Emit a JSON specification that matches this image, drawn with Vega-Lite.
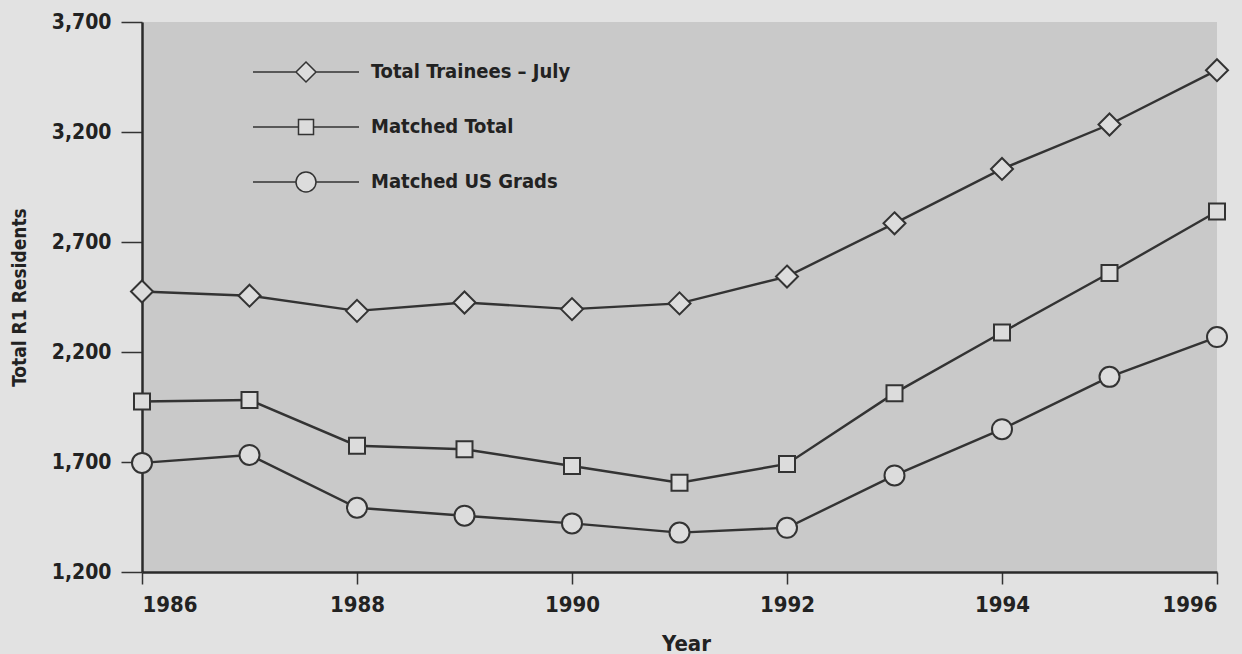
{
  "$schema": "https://vega.github.io/schema/vega-lite/v6.json",
  "width": 1075,
  "height": 550,
  "autosize": "none",
  "padding": {"left": 142, "top": 22, "right": 25, "bottom": 82},
  "background": "#e2e2e2",
  "config": {
    "view": {"fill": "#c9c9c9", "stroke": null},
    "font": "DejaVu Sans Condensed, DejaVu Sans, sans-serif",
    "axis": {
      "labelFont": "DejaVu Sans Condensed, DejaVu Sans, sans-serif",
      "titleFont": "DejaVu Sans Condensed, DejaVu Sans, sans-serif",
      "labelFontWeight": "bold",
      "titleFontWeight": "bold",
      "labelColor": "#222222",
      "titleColor": "#222222",
      "domainColor": "#2a2a2a",
      "tickColor": "#333333",
      "grid": false
    },
    "legend": {
      "labelFont": "DejaVu Sans Condensed, DejaVu Sans, sans-serif"
    }
  },
  "data": {
    "values": [
      {"year": 1986, "series": "Total Trainees – July", "value": 2475},
      {"year": 1987, "series": "Total Trainees – July", "value": 2456},
      {"year": 1988, "series": "Total Trainees – July", "value": 2387},
      {"year": 1989, "series": "Total Trainees – July", "value": 2425},
      {"year": 1990, "series": "Total Trainees – July", "value": 2395},
      {"year": 1991, "series": "Total Trainees – July", "value": 2421},
      {"year": 1992, "series": "Total Trainees – July", "value": 2543},
      {"year": 1993, "series": "Total Trainees – July", "value": 2785},
      {"year": 1994, "series": "Total Trainees – July", "value": 3032},
      {"year": 1995, "series": "Total Trainees – July", "value": 3234},
      {"year": 1996, "series": "Total Trainees – July", "value": 3481},
      {"year": 1986, "series": "Matched Total", "value": 1975},
      {"year": 1987, "series": "Matched Total", "value": 1982},
      {"year": 1988, "series": "Matched Total", "value": 1774},
      {"year": 1989, "series": "Matched Total", "value": 1758},
      {"year": 1990, "series": "Matched Total", "value": 1682},
      {"year": 1991, "series": "Matched Total", "value": 1606},
      {"year": 1992, "series": "Matched Total", "value": 1691},
      {"year": 1993, "series": "Matched Total", "value": 2013},
      {"year": 1994, "series": "Matched Total", "value": 2289},
      {"year": 1995, "series": "Matched Total", "value": 2559},
      {"year": 1996, "series": "Matched Total", "value": 2839},
      {"year": 1986, "series": "Matched US Grads", "value": 1696},
      {"year": 1987, "series": "Matched US Grads", "value": 1732},
      {"year": 1988, "series": "Matched US Grads", "value": 1492},
      {"year": 1989, "series": "Matched US Grads", "value": 1456},
      {"year": 1990, "series": "Matched US Grads", "value": 1421},
      {"year": 1991, "series": "Matched US Grads", "value": 1379},
      {"year": 1992, "series": "Matched US Grads", "value": 1401},
      {"year": 1993, "series": "Matched US Grads", "value": 1639},
      {"year": 1994, "series": "Matched US Grads", "value": 1849},
      {"year": 1995, "series": "Matched US Grads", "value": 2087},
      {"year": 1996, "series": "Matched US Grads", "value": 2268}
    ]
  },
  "encoding": {
    "x": {
      "field": "year",
      "type": "quantitative",
      "scale": {"domain": [1986, 1996], "nice": false, "zero": false},
      "axis": {
        "title": "Year",
        "values": [1986, 1988, 1990, 1992, 1994, 1996],
        "format": "d",
        "labelFontSize": 22,
        "labelPadding": 10,
        "tickSize": 12,
        "tickWidth": 1.5,
        "domainWidth": 2.5,
        "titleFontSize": 22,
        "titlePadding": 18,
        "titleX": 544
      }
    },
    "y": {
      "field": "value",
      "type": "quantitative",
      "scale": {"domain": [1200, 3700], "nice": false, "zero": false},
      "axis": {
        "title": "Total R1 Residents",
        "values": [1200, 1700, 2200, 2700, 3200, 3700],
        "format": ",d",
        "labelFontSize": 21,
        "labelPadding": 10,
        "tickSize": 21,
        "tickWidth": 1.5,
        "domainWidth": 2.5,
        "titleFontSize": 19,
        "titlePadding": 22
      }
    }
  },
  "layer": [
    {
      "mark": {"type": "line", "stroke": "#333333", "strokeWidth": 2.4},
      "encoding": {"detail": {"field": "series", "type": "nominal"}}
    },
    {
      "mark": {"type": "point", "filled": true, "fill": "#dcdcdc", "stroke": "#333333", "strokeWidth": 2, "size": 400, "opacity": 1},
      "encoding": {
        "shape": {
          "field": "series",
          "type": "nominal",
          "scale": {
            "domain": ["Total Trainees – July", "Matched Total", "Matched US Grads"],
            "range": [
              "M0,-1.1L1.1,0L0,1.1L-1.1,0Z",
              "M-0.8,-0.8L0.8,-0.8L0.8,0.8L-0.8,0.8Z",
              "M1,0A1,1 0 1,1 -1,0A1,1 0 1,1 1,0Z"
            ]
          },
          "legend": null
        }
      }
    },
    {
      "mark": {"type": "point", "filled": true, "fill": "#dcdcdc", "stroke": "#333333", "strokeWidth": 2, "size": 400, "opacity": 0},
      "encoding": {
        "shape": {
          "field": "series",
          "type": "nominal",
          "scale": {
            "domain": ["Total Trainees – July", "Matched Total", "Matched US Grads"],
            "range": [
              "M-5.3,0L-1,0M1,0L5.3,0M0,-1L1,0L0,1L-1,0Z",
              "M-5.3,0L-0.75,0M0.75,0L5.3,0M-0.75,-0.75L0.75,-0.75L0.75,0.75L-0.75,0.75Z",
              "M-5.3,0L-1,0M1,0L5.3,0M1,0A1,1 0 1,1 -1,0A1,1 0 1,1 1,0Z"
            ]
          },
          "legend": {
            "title": null,
            "orient": "none",
            "legendX": 153,
            "legendY": 39,
            "padding": 0,
            "symbolSize": 400,
            "symbolOpacity": 1,
            "labelFontSize": 20,
            "labelFontWeight": "bold",
            "labelColor": "#222222",
            "labelOffset": 54,
            "rowPadding": 31,
            "labelLimit": 400,
            "encode": {
              "symbols": {
                "update": {
                  "fill": {"value": "#dcdcdc"},
                  "stroke": {"value": "#333333"},
                  "strokeWidth": {"value": 2.4},
                  "opacity": {"value": 1}
                }
              }
            }
          }
        }
      }
    }
  ],
  "resolve": {"scale": {"shape": "independent"}}
}
